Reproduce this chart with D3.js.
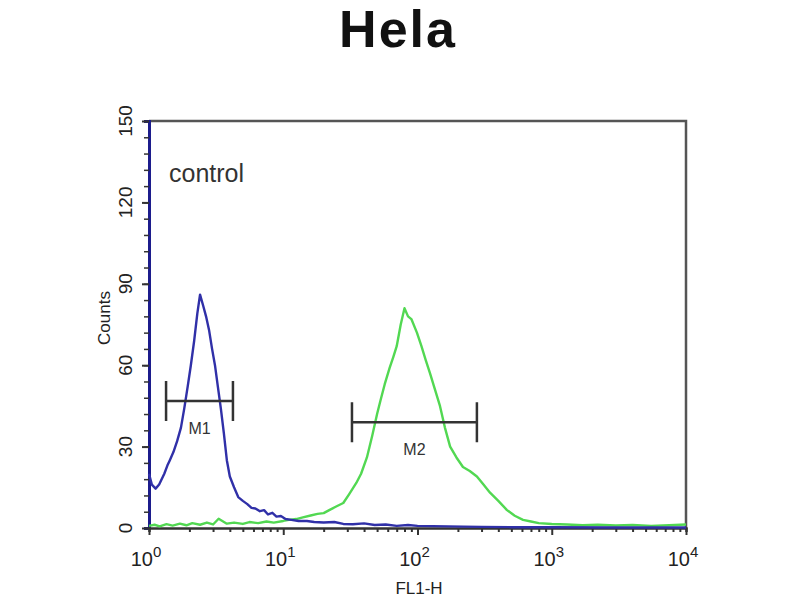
<!DOCTYPE html>
<html>
<head>
<meta charset="utf-8">
<script src="https://cdn.jsdelivr.net/npm/d3@7"></script>
<style>
  body { margin: 0; background: #fff; }
  svg { display: block; font-family: "Liberation Sans", Arial, sans-serif; }
</style>
</head>
<body>
<svg id="chart" width="800" height="600"></svg>
<script>
// control histogram (blue), FL1-H channel vs counts
var controlFL = [1.0, 1.05, 1.12, 1.19, 1.3, 1.37, 1.43, 1.52, 1.62, 1.73, 1.83, 1.94, 2.05, 2.17, 2.29, 2.4,
  2.53, 2.66, 2.8, 2.95, 3.1, 3.26, 3.43, 3.61, 3.8, 4.0, 4.3, 4.62, 5.0, 5.4, 5.8, 6.2, 6.7, 7.2, 7.7, 8.3,
  8.9, 9.6, 10.4, 11.5, 13, 15, 17, 20, 24, 28, 33, 40, 48, 58, 70, 85, 100, 130, 170, 220, 300, 500, 1000, 3000, 10000];
var controlCounts = [20, 16, 14.5, 16, 20, 23, 25, 28, 32, 37, 44, 52, 60, 69, 79, 86,
  82, 78, 73, 66, 60, 52, 44, 35, 25, 19, 15, 11.4, 10, 8.8, 7.4, 7.2, 6.2, 6.6, 5.0, 5.6,
  4.2, 4.4, 3.3, 3.0, 2.6, 2.6, 2.2, 2.0, 2.2, 1.5, 1.4, 1.7, 1.1, 1.3, 0.8, 1.1, 0.8, 0.7, 0.6, 0.5, 0.4, 0.3, 0.3, 0.2, 0.2];

// sample histogram (green)
var sampleFL = [1.0, 1.1, 1.2, 1.35, 1.5, 1.7, 1.9, 2.1, 2.4, 2.7, 3.0, 3.3, 3.8, 4.3, 5.0, 5.6, 6.5, 7.5, 8.5,
  10, 11, 12.5, 14, 16, 18, 20, 22, 25, 28, 31, 35, 38, 42, 46, 50, 53, 57, 62, 66, 70, 75, 80, 85, 90, 99,
  107, 115, 124, 135, 147, 160, 175, 195, 218, 245, 277, 310, 347, 400, 464, 530, 611, 700, 800, 1000,
  1300, 1700, 2200, 3000, 4000, 5500, 7500, 10000];
var sampleCounts = [0.8, 1.2, 0.6, 1.4, 0.9, 1.6, 1.0, 1.8, 1.2, 2.0, 1.3, 3.4, 1.6, 2.0, 1.5, 2.2, 1.8, 2.4, 2.0,
  2.6, 3.0, 3.3, 3.9, 4.6, 5.2, 5.5, 6.6, 8.0, 9.2, 12.5, 16.6, 20, 26, 34, 42, 47, 53, 59, 63, 67, 75, 81, 78, 77, 72,
  67, 62, 57, 51, 45, 37, 30, 26, 22.5, 21, 19, 16, 13, 10, 6.6, 4.5, 3.0, 2.4, 1.8, 1.5,
  1.3, 1.0, 1.2, 0.9, 1.1, 0.8, 1.0, 1.3];

// marker gates
var markerNames = ['M1', 'M2'];
var markerFrom = [1.34, 32.5];
var markerTo = [4.22, 277];
var markerLevel = [46.8, 39];

var yTicks = [0, 30, 60, 90, 120, 150];
var xDecades = [0, 1, 2, 3, 4];

(function () {
  // SETUP
  var svg = d3.select('#chart');
  var plotLeft = 149, plotRight = 686, plotTop = 121, plotBottom = 528;

  var x = d3.scaleLog().domain([1, 10000]).range([plotLeft, plotRight]);
  var y = d3.scaleLinear().domain([0, 150]).range([plotBottom, plotTop]);

  // title
  svg.append('text')
    .attr('x', 398).attr('y', 47)
    .attr('text-anchor', 'middle')
    .style('font-size', '52px').style('font-weight', 'bold')
    .style('letter-spacing', '2px')
    .attr('fill', '#111')
    .text('Hela');

  // frame: top and right edges
  svg.append('path')
    .attr('d', 'M' + plotLeft + ',' + plotTop + 'H' + plotRight + 'V' + plotBottom)
    .attr('fill', 'none').attr('stroke', '#555').attr('stroke-width', 2.5);

  // y axis, minor ticks then major
  var yMinor = d3.range(0, 151, 6);
  svg.append('g')
    .attr('transform', 'translate(' + plotLeft + ',0)')
    .call(d3.axisLeft(y).tickValues(yMinor).tickSize(5).tickFormat(''))
    .call(function (g) {
      g.select('.domain').attr('stroke', '#1c1c8c').attr('stroke-width', 3);
      g.selectAll('.tick line').attr('stroke', '#333').attr('stroke-width', 1.5);
    });
  svg.append('g')
    .attr('transform', 'translate(' + plotLeft + ',0)')
    .call(d3.axisLeft(y).tickValues(yTicks).tickSize(7).tickFormat(''))
    .call(function (g) {
      g.select('.domain').remove();
      g.selectAll('.tick line').attr('stroke', '#333').attr('stroke-width', 2);
    });
  svg.append('g').selectAll('text')
    .data(yTicks)
    .enter().append('text')
    .attr('transform', function (d) { return 'translate(132,' + y(d) + ') rotate(-90)'; })
    .attr('text-anchor', 'middle')
    .style('font-size', '19px')
    .attr('fill', '#222')
    .text(function (d) { return d; });

  svg.append('text')
    .attr('transform', 'translate(110,318) rotate(-90)')
    .attr('text-anchor', 'middle')
    .style('font-size', '17px')
    .attr('fill', '#222')
    .text('Counts');

  // x axis, log ticks
  var xMinor = [];
  xDecades.slice(0, -1).forEach(function (p) {
    for (var k = 2; k <= 9; k++) xMinor.push(k * Math.pow(10, p));
  });
  svg.append('g')
    .attr('transform', 'translate(0,' + plotBottom + ')')
    .call(d3.axisBottom(x).tickValues(xMinor).tickSize(4).tickFormat(''))
    .call(function (g) {
      g.select('.domain').attr('stroke', '#333').attr('stroke-width', 2.5);
      g.selectAll('.tick line').attr('stroke', '#333').attr('stroke-width', 2);
    });
  svg.append('g')
    .attr('transform', 'translate(0,' + plotBottom + ')')
    .call(d3.axisBottom(x).tickValues(xDecades.map(function (p) { return Math.pow(10, p); })).tickSize(7).tickFormat(''))
    .call(function (g) {
      g.select('.domain').remove();
      g.selectAll('.tick line').attr('stroke', '#333').attr('stroke-width', 2);
    });

  var xLabels = svg.append('g').selectAll('text')
    .data(xDecades)
    .enter().append('text')
    .attr('x', function (p) { return x(Math.pow(10, p)) - 3; })
    .attr('y', 566)
    .attr('text-anchor', 'middle')
    .attr('fill', '#222')
    .style('font-size', '20px');
  xLabels.append('tspan').text('10');
  xLabels.append('tspan')
    .attr('dy', -9)
    .style('font-size', '15px')
    .text(function (p) { return p; });

  svg.append('text')
    .attr('x', 419).attr('y', 594)
    .attr('text-anchor', 'middle')
    .style('font-size', '17px')
    .attr('fill', '#222')
    .text('FL1-H');

  // annotation
  svg.append('text')
    .attr('x', 169).attr('y', 182)
    .style('font-size', '25px')
    .attr('fill', '#333')
    .text('control');

  // histograms
  var line = d3.line()
    .x(function (d) { return x(d[0]); })
    .y(function (d) { return y(d[1]); });

  svg.append('path')
    .datum(d3.zip(sampleFL, sampleCounts))
    .attr('d', line)
    .attr('fill', 'none')
    .attr('stroke', '#52d852')
    .attr('stroke-width', 2.4)
    .attr('stroke-linejoin', 'round');

  svg.append('path')
    .datum(d3.zip(controlFL, controlCounts))
    .attr('d', line)
    .attr('fill', 'none')
    .attr('stroke', '#3030a8')
    .attr('stroke-width', 2.4)
    .attr('stroke-linejoin', 'round');

  // marker gates
  var markers = svg.append('g').selectAll('g.marker')
    .data(markerNames.map(function (n, i) {
      return { name: n, from: markerFrom[i], to: markerTo[i], level: markerLevel[i] };
    }))
    .enter().append('g')
    .attr('class', 'marker');
  markers.append('path')
    .attr('d', function (d) {
      var x0 = x(d.from), x1 = x(d.to), yy = y(d.level);
      return 'M' + x0 + ',' + (yy - 20) + 'V' + (yy + 20)
        + 'M' + x0 + ',' + yy + 'H' + x1
        + 'M' + x1 + ',' + (yy - 20) + 'V' + (yy + 20);
    })
    .attr('fill', 'none')
    .attr('stroke', '#333')
    .attr('stroke-width', 2.5);
  markers.append('text')
    .attr('x', function (d) { return (x(d.from) + x(d.to)) / 2; })
    .attr('y', function (d) { return y(d.level) + 33; })
    .attr('text-anchor', 'middle')
    .style('font-size', '16px')
    .attr('fill', '#333')
    .text(function (d) { return d.name; });
})();
</script>
</body>
</html>
